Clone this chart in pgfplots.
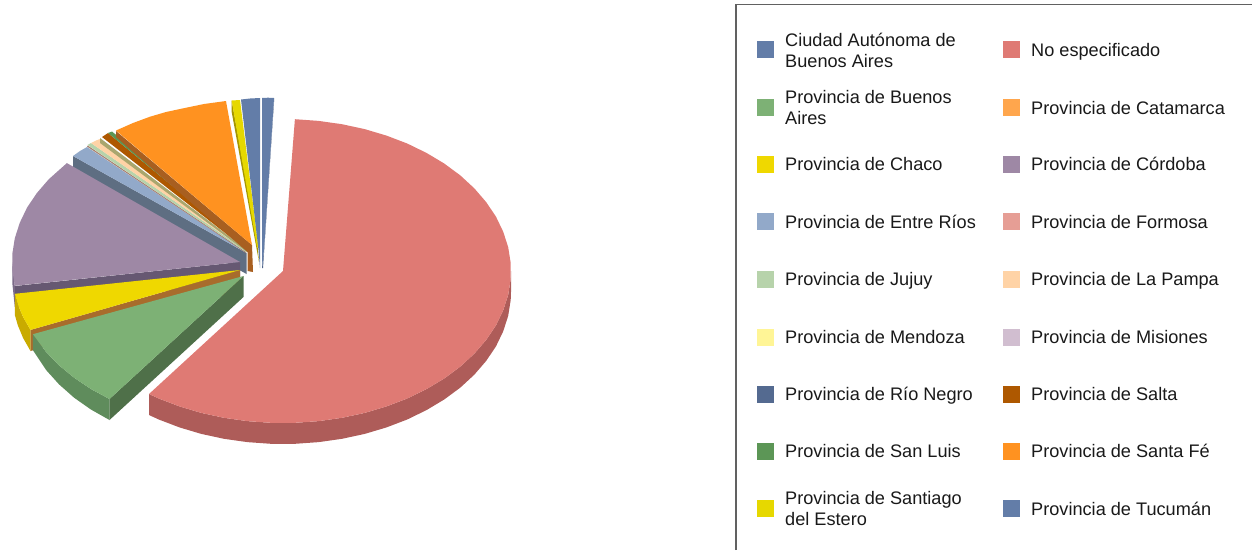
\documentclass[border=0pt]{standalone}
\usepackage{fontspec}
\setmainfont{Liberation Sans}
\usepackage{pgfplots}
\pgfplotsset{compat=1.18}
\definecolor{cCABA}{HTML}{637DA8}
\definecolor{cNE}{HTML}{DF7A74}
\definecolor{cNEw}{HTML}{AE5C59}
\definecolor{cBA}{HTML}{7DB175}
\definecolor{cBAw}{HTML}{5F8C5C}
\definecolor{cBAr}{HTML}{4F7049}
\definecolor{cCat}{HTML}{FFA64D}
\definecolor{cCha}{HTML}{EFD800}
\definecolor{cChaw}{HTML}{C9AB00}
\definecolor{cChar}{HTML}{A86C2C}
\definecolor{cCor}{HTML}{9E88A5}
\definecolor{cCorw}{HTML}{7B6A88}
\definecolor{cCorr}{HTML}{665872}
\definecolor{cER}{HTML}{92A9C9}
\definecolor{cERw}{HTML}{5E6E82}
\definecolor{cFor}{HTML}{E69E95}
\definecolor{cJuj}{HTML}{B7D3AB}
\definecolor{cLP}{HTML}{FFD3A6}
\definecolor{cMen}{HTML}{FFF596}
\definecolor{cMis}{HTML}{D1BED0}
\definecolor{cRN}{HTML}{546A90}
\definecolor{cSal}{HTML}{AE5800}
\definecolor{cSL}{HTML}{5C9656}
\definecolor{cSF}{HTML}{FF9220}
\definecolor{cSFw}{HTML}{A85F20}
\definecolor{cSE}{HTML}{E6D800}
\definecolor{cSEw}{HTML}{A59500}
\definecolor{cTuc}{HTML}{637DA8}
\definecolor{cDkB}{HTML}{4D6185}
\definecolor{cOli}{HTML}{A9A66E}
\definecolor{cThin}{HTML}{A88070}
\pgfplotsset{poly/.style={fill=#1,draw=none,mark=none}}
\begin{document}
\begin{tikzpicture}
\useasboundingbox (0,0) rectangle (1252pt,550pt);
\begin{axis}[
  at={(0,0)},anchor=south west,
  scale only axis,width=1252pt,height=550pt,
  xmin=0,xmax=1252,ymin=0,ymax=550,y dir=reverse,
  hide axis,clip=false,
  nodes={font=\fontsize{18.15}{20.6}\selectfont,anchor=west,align=left,inner sep=0pt,text=black!90}
]
% back slices
\addplot[poly=cERw] coordinates {(73,156)(73,177)(246.5,274)(246.5,253)};
\addplot[poly=cER] coordinates {(73,156)(80,151)(87,147)(246.5,253)};
\addplot[poly=cThin] coordinates {(87,146.5)(87.7,145.5)(246,252)(246,253)};
\addplot[poly=cJuj] coordinates {(87.5,145)(91,143)(246.5,251)(246,252)};
\addplot[poly=cLP] coordinates {(91,143)(96,140.5)(100,139)(247,250)(246.5,251)};
\addplot[poly=cOli] coordinates {(100,138)(100,143)(247,252)(247,250)};
\addplot[poly=cSal] coordinates {(102,137)(108,133)(248,248)(247,250)};
\addplot[poly=cSL] coordinates {(108,133)(112,131.5)(250,247)(248,248)};
\addplot[poly=cSFw] coordinates {(116,131)(116,137)(247.5,252)(247.5,271)(253,272)(252,245)};
\addplot[poly=cSF] coordinates {(116,130.5)(133,123)(150,116.7)(166,112)(183.3,108.3)(204,104)(226,101)(252,245)};
\addplot[poly=cSEw] coordinates {(231.7,100.5)(231.7,112)(259,262)(257,240)};
\addplot[poly=cSE] coordinates {(231.7,100.5)(240,100)(258.5,248)(257,247)};
\addplot[poly=cTuc] coordinates {(241,99.5)(250,98.5)(260,98)(260,268)(258.5,250)};
\addplot[poly=cDkB] coordinates {(274,98)(274,102)(263,268)(262,268)(264,250)};
\addplot[poly=cCABA] coordinates {(262,98)(268,97.7)(274,98)(264,250)(262,268)};
% Cordoba
\addplot[poly=cCorw] coordinates {(12.3,262)(12.3,283)(14.8,307)(14.8,286)};
\addplot[poly=cCorr] coordinates {(240,262)(240,283)(15,307)(15,286)};
\addplot[poly=cCor] coordinates {(240,262)(14.8,285.8)(12.3,270)(12.3,254)(14.8,238.2)(19.8,222.7)(27.1,207.5)(36.9,193)(48.8,179.2)(66.9,163.1)};
% Chaco
\addplot[poly=cChaw] coordinates {(14.8,293.8)(17.8,304.2)(23.1,317)(30.5,329.9)(30.5,351)(23.1,338)(17.8,325.2)(14.8,314.8)};
\addplot[poly=cChar] coordinates {(240,270)(240,291)(30.5,351)(30.5,329.9)};
\addplot[poly=cCha] coordinates {(240,270)(14.8,293.8)(17.8,304.2)(23.1,317)(30.5,329.9)};
% Buenos Aires
\addplot[poly=cBAw] coordinates {(109.5,399)(90.9,389)(74.1,377.7)(59,365.3)(46.1,352)(32.9,334.2)(32.9,350.2)(46.1,370)(59,384.3)(74.1,397.7)(90.9,409.5)(109.5,420)};
\addplot[poly=cBAr] coordinates {(243.5,276)(243.5,297)(109.5,420)(109.5,399)};
\addplot[poly=cBA] coordinates {(243.5,276)(109.5,399)(90.9,389)(74.1,377.7)(59,365.3)(46.1,352)(32.9,334.2)};
% No especificado
\addplot[poly=cNEw] coordinates {(511,271)(510.7,279)(508.2,294.8)(503.2,310.3)(495.9,325.5)(486.1,340)(474.2,353.8)(460.2,366.7)(444.2,378.5)(426.5,389.1)(407.2,398.5)(386.5,406.4)(364.7,412.9)(342,417.8)(318.7,421.1)(294.9,422.8)(271.1,422.8)(247.3,421.1)(224,417.8)(201.3,412.9)(179.5,406.4)(158.8,398.5)(149,394)
 (149,415)(158.8,419.5)(179.5,427.4)(201.3,433.9)(224,438.8)(247.3,442.1)(271.1,443.8)(294.9,443.8)(318.7,442.1)(342,438.8)(364.7,433.9)(386.5,427.4)(407.2,419.5)(426.5,410.1)(444.2,399.5)(460.2,387.7)(474.2,374.8)(486.1,361)(495.9,346.5)(503.2,331.3)(508.2,315.8)(510.7,300)(511,292)};
\addplot[poly=cNE] coordinates {(283,271)(294.9,119.2)(318.7,120.9)(342,124.2)(364.7,129.1)(386.5,135.6)(407.2,143.5)(426.5,152.9)(444.2,163.5)(460.2,175.3)(474.2,188.2)(486.1,202)(495.9,216.5)(503.2,231.7)(508.2,247.2)(510.7,263)(510.7,279)(508.2,294.8)(503.2,310.3)(495.9,325.5)(486.1,340)(474.2,353.8)(460.2,366.7)(444.2,378.5)(426.5,389.1)(407.2,398.5)(386.5,406.4)(364.7,412.9)(342,417.8)(318.7,421.1)(294.9,422.8)(271.1,422.8)(247.3,421.1)(224,417.8)(201.3,412.9)(179.5,406.4)(158.8,398.5)(149,394)};
% legend frame
\addplot[draw=black!62,line width=1.3pt,mark=none] coordinates {(736,550)(736,4.7)(1252,4.7)};
% legend swatches
\addplot[poly=cCABA] coordinates {(757,41)(774,41)(774,58)(757,58)};
\addplot[poly=cNE] coordinates {(1003,41)(1020,41)(1020,58)(1003,58)};
\addplot[poly=cBA] coordinates {(757,99)(774,99)(774,116)(757,116)};
\addplot[poly=cCat] coordinates {(1003,99)(1020,99)(1020,116)(1003,116)};
\addplot[poly=cCha] coordinates {(757,155.5)(774,155.5)(774,172.5)(757,172.5)};
\addplot[poly=cCor] coordinates {(1003,155.5)(1020,155.5)(1020,172.5)(1003,172.5)};
\addplot[poly=cER] coordinates {(757,213)(774,213)(774,230)(757,230)};
\addplot[poly=cFor] coordinates {(1003,213)(1020,213)(1020,230)(1003,230)};
\addplot[poly=cJuj] coordinates {(757,270.5)(774,270.5)(774,287.5)(757,287.5)};
\addplot[poly=cLP] coordinates {(1003,270.5)(1020,270.5)(1020,287.5)(1003,287.5)};
\addplot[poly=cMen] coordinates {(757,328.5)(774,328.5)(774,345.5)(757,345.5)};
\addplot[poly=cMis] coordinates {(1003,328.5)(1020,328.5)(1020,345.5)(1003,345.5)};
\addplot[poly=cRN] coordinates {(757,385.5)(774,385.5)(774,402.5)(757,402.5)};
\addplot[poly=cSal] coordinates {(1003,385.5)(1020,385.5)(1020,402.5)(1003,402.5)};
\addplot[poly=cSL] coordinates {(757,443)(774,443)(774,460)(757,460)};
\addplot[poly=cSF] coordinates {(1003,443)(1020,443)(1020,460)(1003,460)};
\addplot[poly=cSE] coordinates {(757,500)(774,500)(774,517)(757,517)};
\addplot[poly=cTuc] coordinates {(1003,500)(1020,500)(1020,517)(1003,517)};
% legend text
\node at (axis cs:785,50.3) {Ciudad Autónoma de\\Buenos Aires};
\node[anchor=base west] at (axis cs:1031,56) {No especificado};
\node at (axis cs:785,107.5) {Provincia de Buenos\\Aires};
\node[anchor=base west] at (axis cs:1031,114) {Provincia de Catamarca};
\node[anchor=base west] at (axis cs:785,170.5) {Provincia de Chaco};
\node[anchor=base west] at (axis cs:1031,170.5) {Provincia de Córdoba};
\node[anchor=base west] at (axis cs:785,228) {Provincia de Entre Ríos};
\node[anchor=base west] at (axis cs:1031,228) {Provincia de Formosa};
\node[anchor=base west] at (axis cs:785,285.5) {Provincia de Jujuy};
\node[anchor=base west] at (axis cs:1031,285.5) {Provincia de La Pampa};
\node[anchor=base west] at (axis cs:785,343.5) {Provincia de Mendoza};
\node[anchor=base west] at (axis cs:1031,343.5) {Provincia de Misiones};
\node[anchor=base west] at (axis cs:785,400.5) {Provincia de Río Negro};
\node[anchor=base west] at (axis cs:1031,400.5) {Provincia de Salta};
\node[anchor=base west] at (axis cs:785,457.5) {Provincia de San Luis};
\node[anchor=base west] at (axis cs:1031,457.5) {Provincia de Santa Fé};
\node at (axis cs:785,508.5) {Provincia de Santiago\\del Estero};
\node[anchor=base west] at (axis cs:1031,515) {Provincia de Tucumán};
\end{axis}
\end{tikzpicture}
\end{document}
